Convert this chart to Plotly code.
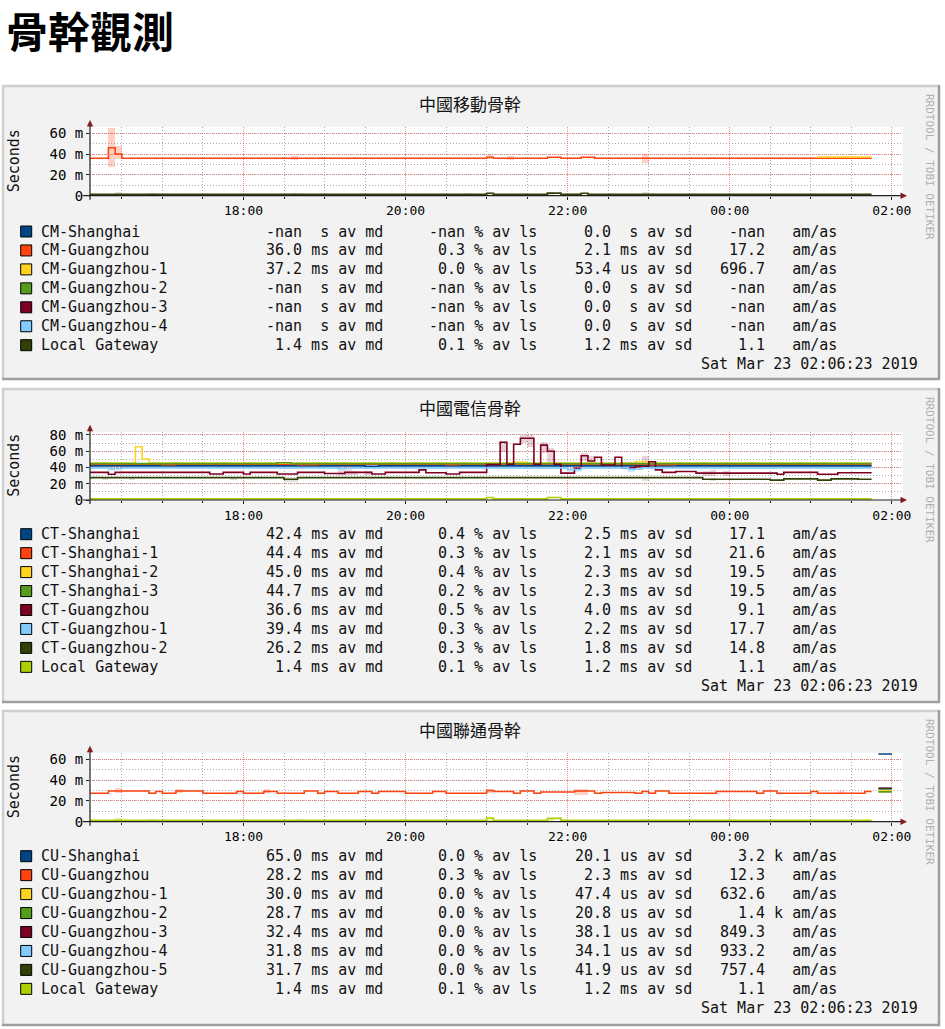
import plotly.graph_objects as go

W, H = 945, 1029
MONO = 'DejaVu Sans Mono'
CJK = 'Noto Sans CJK TC'

# rrdtool default colours
BACK = '#f2f2f2'
SHADE_A = '#cfcfcf'
SHADE_B = '#9e9e9e'
GRID = 'rgba(143,143,143,0.75)'
MGRID = 'rgba(222,79,79,0.6)'
ARROW = '#801f1f'
AXIS = '#1f1f1f'

# smokeping multi-host palette
COLORS = ['#004586', '#ff420e', '#ffd320', '#579d1c', '#7e0021', '#83caff', '#314004', '#aecf00']

T0 = '2019-03-22 16:06:23'
T1 = '2019-03-23 02:06:23'
STAMP = 'Sat Mar 23 02:06:23 2019'

page_title = '骨幹觀測'
panel_titles = ['中國移動骨幹', '中國電信骨幹', '中國聯通骨幹']

# ---------------- 中國移動 (values in ms) ----------------
cm_gz_t = ['16:05', '16:20', '16:25', '16:30', '21:00', '21:05', '21:45', '21:55', '22:10', '22:20', '01:45']
cm_gz_v = [36.0, 46.0, 40.0, 36.0, 37.0, 36.0, 37.0, 36.0, 37.0, 36.0, 36.0]
cm_gz1_t = ['01:05', '01:45']
cm_gz1_v = [37.2, 37.2]
cm_gw_t = ['16:05', '21:00', '21:05', '21:45', '21:55', '22:10', '22:15', '01:45']
cm_gw_v = [1.4, 2.4, 1.4, 2.5, 1.4, 2.3, 1.4, 1.4]

cm_gz_smoke_t = ['16:20', '16:25', '17:15', '18:35', '18:55', '19:20', '21:00', '21:15', '22:55', '23:45']
cm_gz_smoke_lo = [28, 35, 35, 34.5, 35, 35, 35, 34, 31, 35]
cm_gz_smoke_hi = [65, 48, 37.5, 38, 37.5, 37.5, 39, 38, 40, 37]
cm_gw_smoke_t = ['16:25', '16:50', '18:35', '20:45', '21:00', '21:45', '22:05', '22:55']
cm_gw_smoke_lo = [0.5, 0.5, 0.5, 0.5, 0.5, 0.5, 0.5, 0.5]
cm_gw_smoke_hi = [3.5, 2.5, 2.5, 2.5, 3.5, 4.0, 3.0, 3.5]

cm_names = ['CM-Shanghai', 'CM-Guangzhou', 'CM-Guangzhou-1', 'CM-Guangzhou-2',
            'CM-Guangzhou-3', 'CM-Guangzhou-4', 'Local Gateway']
cm_md = ['-nan  s', '36.0 ms', '37.2 ms', '-nan  s', '-nan  s', '-nan  s', '1.4 ms']
cm_ls = ['-nan', '0.3', '0.0', '-nan', '-nan', '-nan', '0.1']
cm_sd = ['0.0  s', '2.1 ms', '53.4 us', '0.0  s', '0.0  s', '0.0  s', '1.2 ms']
cm_amas = ['-nan  ', '17.2  ', '696.7  ', '-nan  ', '-nan  ', '-nan  ', '1.1  ']

# ---------------- 中國電信 ----------------
ct_sh_t = ['16:05', '19:30', '19:40', '01:45']
ct_sh_v = [42.0, 41.5, 42.0, 42.0]
ct_sh1_t = ['16:05', '17:00', '17:10', '18:40', '18:55', '20:30', '20:40', '23:00', '23:20', '01:45']
ct_sh1_v = [44.0, 43.5, 44.0, 43.5, 44.0, 43.5, 44.0, 43.5, 44.0, 44.0]
ct_sh2_t = ['16:05', '16:40', '16:45', '16:50', '21:20', '21:30', '22:50', '23:00', '01:45']
ct_sh2_v = [45.5, 65.5, 50.5, 45.5, 46.5, 45.5, 47.0, 45.5, 45.5]
ct_sh3_t = ['16:05', '18:25', '18:35', '01:45']
ct_sh3_v = [44.7, 45.8, 44.7, 44.7]
ct_gz_t = ['16:05', '16:20', '16:25', '17:35', '17:45', '18:00', '18:05', '18:25', '18:40', '19:00',
           '19:15', '19:35', '19:45', '20:10', '20:15', '20:30', '20:40', '21:00', '21:10', '21:15',
           '21:20', '21:25', '21:35', '21:40', '21:45', '21:50', '21:55', '22:05', '22:10', '22:15',
           '22:20', '22:25', '22:35', '22:40', '22:50', '23:00', '23:05', '23:10', '23:20', '23:35',
           '00:35', '00:40', '01:05', '01:20', '01:45']
ct_gz_v = [34.0, 31.6, 34.0, 32.0, 34.0, 32.0, 34.0, 32.0, 34.0, 32.5,
           34.0, 32.0, 34.0, 37.0, 33.5, 32.0, 34.0, 43.5, 71.0, 44.0,
           68.5, 76.0, 44.0, 67.5, 60.0, 44.0, 33.0, 39.0, 54.5, 48.0,
           52.5, 43.0, 52.5, 39.5, 41.0, 47.0, 37.0, 34.0, 35.0, 33.0,
           31.6, 34.0, 31.6, 33.5, 33.5]
ct_gz1_t = ['16:05', '16:20', '16:30', '19:10', '19:20', '22:00', '22:10', '22:45', '22:55', '01:45']
ct_gz1_v = [39.5, 38.5, 39.5, 38.8, 39.5, 37.5, 39.5, 38.0, 39.5, 39.5]
ct_gz2_t = ['16:05', '18:30', '18:40', '23:40', '00:30', '00:40', '01:05', '01:15', '01:35', '01:45']
ct_gz2_v = [27.5, 25.5, 27.5, 25.5, 24.5, 26.0, 24.5, 26.0, 25.5, 25.5]
ct_gw_t = ['16:05', '21:00', '21:05', '21:45', '21:55', '01:45']
ct_gw_v = [1.4, 3.0, 1.4, 3.0, 1.4, 1.4]

ct_gz_smoke_t = ['19:10', '19:15', '19:20', '19:30', '21:10', '21:25', '21:30', '21:40', '21:45',
                 '22:10', '22:15', '22:55', '23:40', '23:45', '23:55']
ct_gz_smoke_lo = [31, 31, 31, 31, 60, 70, 66, 58, 42, 48, 44, 40, 30, 30, 30]
ct_gz_smoke_hi = [36, 37, 36, 36, 73, 80, 80, 72, 64, 58, 55, 54, 36, 37, 36]
ct_gz1_smoke_t = ['16:20', '19:10', '21:50', '22:00', '22:05', '22:45']
ct_gz1_smoke_lo = [36, 36, 38, 35, 35, 35]
ct_gz1_smoke_hi = [40, 40, 47, 40, 40, 40]
ct_gz2_smoke_t = ['16:15', '16:35', '17:50', '18:30', '18:35', '22:55', '23:45']
ct_gz2_smoke_lo = [25, 25, 25, 23, 23, 24, 24]
ct_gz2_smoke_hi = [28.5, 28.5, 28.5, 29, 29, 29, 28]

ct_names = ['CT-Shanghai', 'CT-Shanghai-1', 'CT-Shanghai-2', 'CT-Shanghai-3',
            'CT-Guangzhou', 'CT-Guangzhou-1', 'CT-Guangzhou-2', 'Local Gateway']
ct_md = ['42.4 ms', '44.4 ms', '45.0 ms', '44.7 ms', '36.6 ms', '39.4 ms', '26.2 ms', '1.4 ms']
ct_ls = ['0.4', '0.3', '0.4', '0.2', '0.5', '0.3', '0.3', '0.1']
ct_sd = ['2.5 ms', '2.1 ms', '2.3 ms', '2.3 ms', '4.0 ms', '2.2 ms', '1.8 ms', '1.2 ms']
ct_amas = ['17.1  ', '21.6  ', '19.5  ', '19.5  ', '9.1  ', '17.7  ', '14.8  ', '1.1  ']

# ---------------- 中國聯通 ----------------
cu_sh_t = ['01:50', '02:00']
cu_sh_v = [65.0, 65.0]
cu_gz_t = ['16:05', '16:20', '16:50', '16:55', '17:00', '17:10', '17:30', '17:55', '18:00', '18:15',
           '18:25', '18:45', '18:55', '19:00', '19:10', '19:25', '19:35', '19:40', '20:00', '20:15',
           '20:20', '20:30', '21:00', '21:05', '21:20', '21:25', '21:35', '21:40', '22:05', '22:20',
           '22:25', '22:50', '22:55', '23:00', '23:05', '23:15', '23:50', '00:20', '00:25', '00:35',
           '01:00', '01:05', '01:40', '01:45']
cu_gz_v = [27.3, 29.5, 27.3, 29.0, 27.3, 29.5, 27.3, 29.0, 27.3, 29.0,
           27.3, 29.5, 27.3, 29.0, 27.3, 29.0, 27.3, 29.0, 27.3, 27.3,
           29.0, 27.3, 30.0, 29.0, 27.3, 29.5, 27.3, 28.5, 29.5, 27.3,
           28.0, 27.3, 29.0, 27.3, 29.5, 27.3, 29.0, 27.3, 29.5, 27.3,
           29.0, 27.3, 29.0, 29.0]
cu_end_t = ['01:50', '02:00']
cu_gz1_v = [30.0, 30.0]
cu_gz2_v = [28.7, 28.7]
cu_gz3_v = [32.4, 32.4]
cu_gz4_v = [31.8, 31.8]
cu_gz5_v = [31.7, 31.7]
cu_gw_t = ['16:05', '21:00', '21:05', '21:45', '21:55', '01:45']
cu_gw_v = [1.4, 3.5, 1.4, 3.2, 1.4, 1.4]

cu_gz_smoke_t = ['16:25', '17:10', '18:15', '21:00', '22:05', '22:10', '01:20']
cu_gz_smoke_lo = [28, 28, 28, 28, 26, 26, 27]
cu_gz_smoke_hi = [32.5, 32, 32, 31.5, 32, 32, 29.5]
cu_gw_smoke_t = ['16:25', '16:50', '18:40', '21:00', '21:45', '22:55']
cu_gw_smoke_lo = [0.5, 0.5, 0.5, 0.5, 0.5, 0.5]
cu_gw_smoke_hi = [3.5, 3.0, 2.5, 3.8, 3.5, 2.5]

cu_names = ['CU-Shanghai', 'CU-Guangzhou', 'CU-Guangzhou-1', 'CU-Guangzhou-2', 'CU-Guangzhou-3',
            'CU-Guangzhou-4', 'CU-Guangzhou-5', 'Local Gateway']
cu_md = ['65.0 ms', '28.2 ms', '30.0 ms', '28.7 ms', '32.4 ms', '31.8 ms', '31.7 ms', '1.4 ms']
cu_ls = ['0.0', '0.3', '0.0', '0.0', '0.0', '0.0', '0.0', '0.1']
cu_sd = ['20.1 us', '2.3 ms', '47.4 us', '20.8 us', '38.1 us', '34.1 us', '41.9 us', '1.2 ms']
cu_amas = ['3.2 k', '12.3  ', '632.6  ', '1.4 k', '849.3  ', '933.2  ', '757.4  ', '1.1  ']

ytick_vals_60 = [0, 20, 40, 60]
ytick_text_60 = ['0', '20 m', '40 m', '60 m']
ytick_vals_80 = [0, 20, 40, 60, 80]
ytick_text_80 = ['0', '20 m', '40 m', '60 m', '80 m']


def px(x):
    return x / W


def py(y):
    return 1 - y / H


def ts(hm):
    day = '2019-03-22' if int(hm[:2]) >= 12 else '2019-03-23'
    return f'{day} {hm}:00'


def nb(s):
    # keep the monospace columns
    return s.replace(' ', '\u00a0')


fig = go.Figure()


def step(times, vals, color, ax):
    fig.add_trace(go.Scatter(x=[ts(t) for t in times], y=vals, mode='lines',
                             line=dict(color=color, width=1.6, shape='hv'),
                             xaxis='x' + ax, yaxis='y' + ax, hoverinfo='skip'))


def smoke(times, lo, hi, color, ax):
    fig.add_trace(go.Bar(x=[ts(t) for t in times], y=[h - l for l, h in zip(lo, hi)], base=lo,
                         width=300000, offset=0, marker=dict(color=color, line=dict(width=0)),
                         xaxis='x' + ax, yaxis='y' + ax, hoverinfo='skip'))


# panel 1
smoke(cm_gz_smoke_t, cm_gz_smoke_lo, cm_gz_smoke_hi, 'rgba(255,66,14,0.25)', '')
smoke(cm_gw_smoke_t, cm_gw_smoke_lo, cm_gw_smoke_hi, 'rgba(49,64,4,0.15)', '')
step(cm_gz_t, cm_gz_v, COLORS[1], '')
step(cm_gz1_t, cm_gz1_v, COLORS[2], '')
step(cm_gw_t, cm_gw_v, COLORS[6], '')

# panel 2
smoke(ct_gz_smoke_t, ct_gz_smoke_lo, ct_gz_smoke_hi, 'rgba(126,0,33,0.18)', '2')
smoke(ct_gz1_smoke_t, ct_gz1_smoke_lo, ct_gz1_smoke_hi, 'rgba(131,202,255,0.4)', '2')
smoke(ct_gz2_smoke_t, ct_gz2_smoke_lo, ct_gz2_smoke_hi, 'rgba(49,64,4,0.15)', '2')
step(ct_sh_t, ct_sh_v, COLORS[0], '2')
step(ct_sh1_t, ct_sh1_v, COLORS[1], '2')
step(ct_sh2_t, ct_sh2_v, COLORS[2], '2')
step(ct_sh3_t, ct_sh3_v, COLORS[3], '2')
step(ct_gz_t, ct_gz_v, COLORS[4], '2')
step(ct_gz1_t, ct_gz1_v, COLORS[5], '2')
step(ct_gz2_t, ct_gz2_v, COLORS[6], '2')
step(ct_gw_t, ct_gw_v, COLORS[7], '2')

# panel 3
smoke(cu_gz_smoke_t, cu_gz_smoke_lo, cu_gz_smoke_hi, 'rgba(255,66,14,0.25)', '3')
smoke(cu_gw_smoke_t, cu_gw_smoke_lo, cu_gw_smoke_hi, 'rgba(174,207,0,0.3)', '3')
step(cu_sh_t, cu_sh_v, COLORS[0], '3')
step(cu_gz_t, cu_gz_v, COLORS[1], '3')
step(cu_end_t, cu_gz1_v, COLORS[2], '3')
step(cu_end_t, cu_gz2_v, COLORS[3], '3')
step(cu_end_t, cu_gz3_v, COLORS[4], '3')
step(cu_end_t, cu_gz4_v, COLORS[5], '3')
step(cu_end_t, cu_gz5_v, COLORS[6], '3')
step(cu_gw_t, cu_gw_v, COLORS[7], '3')

# panel geometry (pixels)
panels = [
    dict(box=(2, 85, 940, 380), top=127.0, bottom=195.7, ymax=66.0, tv=ytick_vals_60, tt=ytick_text_60,
         row0=231.5, names=cm_names, md=cm_md, ls=cm_ls, sd=cm_sd, amas=cm_amas, title_y=103),
    dict(box=(2, 388, 940, 703), top=431.7, bottom=500.0, ymax=84.0, tv=ytick_vals_80, tt=ytick_text_80,
         row0=534.2, names=ct_names, md=ct_md, ls=ct_ls, sd=ct_sd, amas=ct_amas, title_y=407),
    dict(box=(2, 710, 940, 1026), top=752.7, bottom=821.7, ymax=66.3, tv=ytick_vals_60, tt=ytick_text_60,
         row0=856.2, names=cu_names, md=cu_md, ls=cu_ls, sd=cu_sd, amas=cu_amas, title_y=729),
]
X_LEFT, X_RIGHT = 90, 900.5
ROW_STEP = 18.95

shapes = []
annotations = [dict(text=page_title, x=px(4), y=py(30), xanchor='left', yanchor='middle',
                    font=dict(family=CJK, size=42, color='#000', weight='bold'))]
layout_axes = {}

for i, p in enumerate(panels):
    ax = '' if i == 0 else str(i + 1)
    x0, y0, x1, y1 = p['box']
    # panel background with bevel
    shapes.append(dict(type='rect', xref='paper', yref='paper', x0=px(x0), x1=px(x1), y0=py(y0), y1=py(y1),
                       fillcolor=BACK, line=dict(width=0), layer='below'))
    shapes.append(dict(type='line', xref='paper', yref='paper', x0=px(x0), x1=px(x1), y0=py(y0 + 1), y1=py(y0 + 1),
                       line=dict(color=SHADE_A, width=2.5), layer='below'))
    shapes.append(dict(type='line', xref='paper', yref='paper', x0=px(x0 + 1), x1=px(x0 + 1), y0=py(y0), y1=py(y1),
                       line=dict(color=SHADE_A, width=2.5), layer='below'))
    shapes.append(dict(type='line', xref='paper', yref='paper', x0=px(x0), x1=px(x1), y0=py(y1 - 1), y1=py(y1 - 1),
                       line=dict(color=SHADE_B, width=2.5), layer='below'))
    shapes.append(dict(type='line', xref='paper', yref='paper', x0=px(x1 - 1), x1=px(x1 - 1), y0=py(y0), y1=py(y1),
                       line=dict(color=SHADE_B, width=2.5), layer='below'))
    # canvas
    shapes.append(dict(type='rect', xref='paper', yref='paper', x0=px(X_LEFT), x1=px(X_RIGHT + 2),
                       y0=py(p['bottom']), y1=py(p['top']), fillcolor='#ffffff', line=dict(width=0), layer='below'))
    # axis lines and arrows
    b, t = p['bottom'], p['top']
    shapes.append(dict(type='line', xref='paper', yref='paper', x0=px(83), x1=px(903), y0=py(b), y1=py(b),
                       line=dict(color=AXIS, width=1.2)))
    shapes.append(dict(type='line', xref='paper', yref='paper', x0=px(X_LEFT), x1=px(X_LEFT), y0=py(b + 4), y1=py(t - 2),
                       line=dict(color=AXIS, width=1.2)))
    shapes.append(dict(type='path', xref='paper', yref='paper',
                       path=f'M {px(907)},{py(b)} L {px(900.5)},{py(b - 3.2)} L {px(900.5)},{py(b + 3.2)} Z',
                       fillcolor=ARROW, line=dict(width=0)))
    shapes.append(dict(type='path', xref='paper', yref='paper',
                       path=f'M {px(X_LEFT)},{py(t - 7)} L {px(X_LEFT - 3.2)},{py(t - 0.5)} L {px(X_LEFT + 3.2)},{py(t - 0.5)} Z',
                       fillcolor=ARROW, line=dict(width=0)))

    layout_axes['xaxis' + ax] = dict(
        type='date', range=[T0, T1], domain=[px(X_LEFT), px(X_RIGHT)], anchor='y' + ax,
        automargin=False,
        tickformat='%H:%M', tick0='2019-03-22 00:00:00', dtick=7200000,
        showgrid=True, gridcolor=MGRID, griddash='1px,1px', gridwidth=1,
        minor=dict(dtick=1800000, tick0='2019-03-22 00:00:00', showgrid=True, gridcolor=GRID,
                   griddash='1px,2px', gridwidth=1, ticks='outside', ticklen=2, tickcolor=AXIS),
        ticks='outside', ticklen=3, tickcolor=AXIS, tickwidth=1,
        tickfont=dict(family=MONO, size=13, color='#000'),
        showline=False, zeroline=False, fixedrange=True)
    layout_axes['yaxis' + ax] = dict(
        range=[0, p['ymax']], domain=[py(p['bottom']), py(p['top'])], anchor='x' + ax,
        automargin=False,
        tickmode='array', tickvals=p['tv'], ticktext=p['tt'],
        showgrid=True, gridcolor=MGRID, griddash='1px,1px', gridwidth=1,
        minor=dict(tickmode='linear', tick0=0, dtick=10, showgrid=True, gridcolor=GRID,
                   griddash='1px,2px', gridwidth=1, ticks=''),
        ticks='outside', ticklen=3, tickcolor=AXIS,
        tickfont=dict(family=MONO, size=14, color='#000'),
        showline=False, zeroline=False, fixedrange=True)

    # texts around the canvas
    annotations.append(dict(text=panel_titles[i], x=px(470), y=py(p['title_y']), xanchor='center', yanchor='middle',
                            font=dict(family=CJK, size=17, color='#111')))
    annotations.append(dict(text='Seconds', x=px(14), y=py((p['top'] + p['bottom']) / 2), textangle=-90,
                            xanchor='center', yanchor='middle', font=dict(family=MONO, size=15, color='#111')))
    annotations.append(dict(text=nb('RRDTOOL / TOBI OETIKER'), x=px(930), y=py(y0 + 82), textangle=90,
                            xanchor='center', yanchor='middle', font=dict(family=MONO, size=11, color='#b0b0b0')))

    # legend rows
    for r, name in enumerate(p['names']):
        yc = p['row0'] + r * ROW_STEP
        shapes.append(dict(type='rect', xref='paper', yref='paper', x0=px(20.7), x1=px(31.7),
                           y0=py(yc + 5.5), y1=py(yc - 5.5), fillcolor=COLORS[r], line=dict(color='#000', width=1)))
        cols = [(name, 39, 'left'),
                (p['md'][r] + ' av md', 385, 'right'),
                (p['ls'][r] + ' % av ls', 539, 'right'),
                (p['sd'][r] + ' av sd', 693.5, 'right'),
                (p['amas'][r] + ' am/as', 838.5, 'right')]
        for txt, xx, anc in cols:
            annotations.append(dict(text=nb(txt), x=px(xx), y=py(yc), xanchor=anc, yanchor='middle',
                                    font=dict(family=MONO, size=15, color='#111')))
    yd = p['row0'] + len(p['names']) * ROW_STEP
    annotations.append(dict(text=nb(STAMP), x=px(920), y=py(yd), xanchor='right', yanchor='middle',
                            font=dict(family=MONO, size=15, color='#111')))

for a in annotations:
    a.update(xref='paper', yref='paper', showarrow=False)

fig.update_layout(
    template='none',
    width=W, height=H, margin=dict(l=0, r=0, t=0, b=0, pad=0), autosize=False,
    paper_bgcolor='#ffffff', plot_bgcolor='rgba(0,0,0,0)',
    showlegend=False, barmode='overlay', bargap=0,
    shapes=shapes, annotations=annotations, **layout_axes)

fig.write_html('out.html', config={'displayModeBar': False},
               post_script="document.body.style.margin='0';document.body.style.overflow='hidden';")
